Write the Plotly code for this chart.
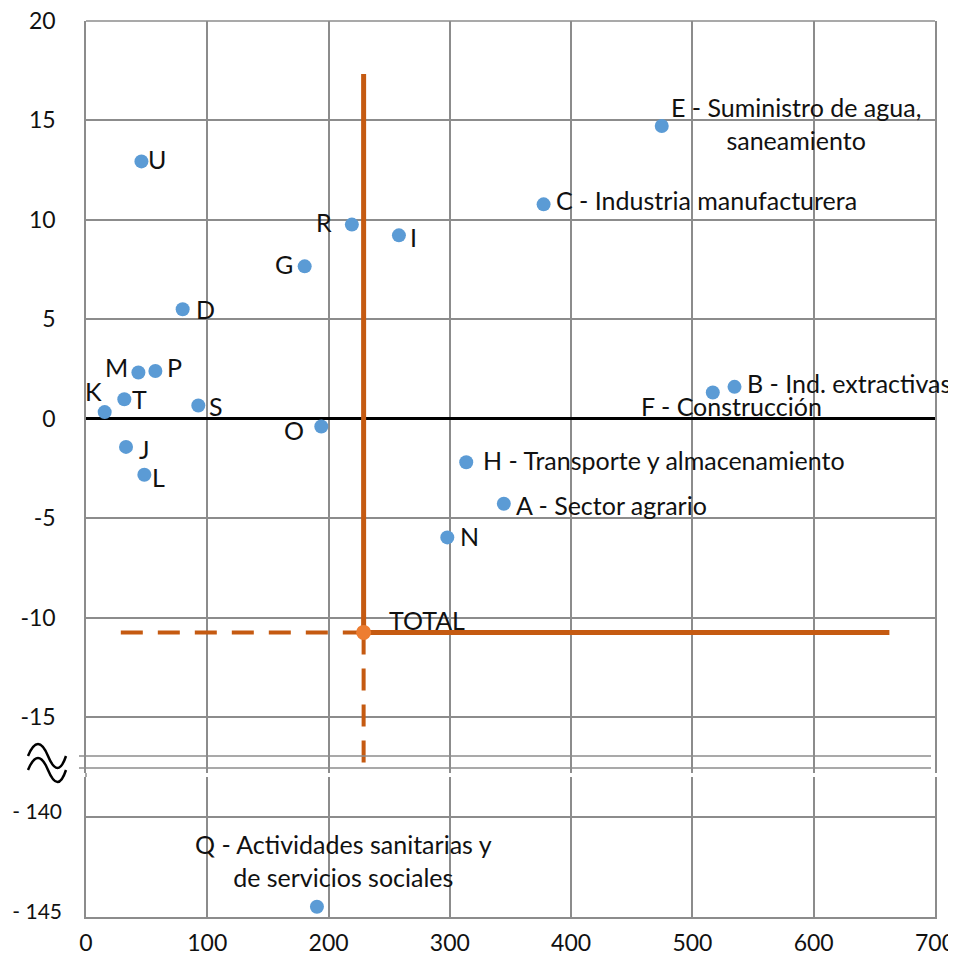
import plotly.graph_objects as go

# ---------------- data ----------------
sector_codes = ["A", "B", "C", "D", "E", "F", "G", "H", "I", "J",
                "K", "L", "M", "N", "O", "P", "R", "S", "T", "U"]
sector_labels = ["A - Sector agrario", "B - Ind. extractivas", "C - Industria manufacturera",
                 "D", "E - Suministro de agua,<br>saneamiento", "F - Construcción", "G",
                 "H - Transporte y almacenamiento", "I", "J", "K", "L", "M", "N", "O", "P",
                 "R", "S", "T", "U"]
sector_x = [344.5, 534.7, 377.3, 79.7, 474.7, 516.8, 180.3, 313.5, 258.0, 33.0,
            15.4, 48.1, 43.2, 297.9, 194.0, 57.2, 219.2, 92.6, 31.6, 45.7]
sector_y = [-4.28, 1.60, 10.78, 5.50, 14.72, 1.32, 7.66, -2.19, 9.22, -1.42,
            0.33, -2.82, 2.32, -5.97, -0.39, 2.40, 9.76, 0.66, 0.98, 12.94]

q_code = "Q"
q_label = "Q - Actividades sanitarias y<br>de servicios sociales"
q_x = [190.4]
q_y = [-144.49]

total_label = "TOTAL"
total_x = 228.9
total_y = -10.75

# reference line extents (data units)
vline_top = 17.33
hline_right = 662.4
hline_left_dashed = 28.7

x_ticks = [0, 100, 200, 300, 400, 500, 600, 700]
x_ticklabels = ["0", "100", "200", "300", "400", "500", "600", "700"]
y_top_ticks = [20, 15, 10, 5, 0, -5, -10, -15]
y_top_ticklabels = ["20", "15", "10", "5", "0", "-5", "-10", "-15"]
y_bot_ticks = [-140, -145]
y_bot_ticklabels = ["- 140", "- 145"]

# ---------------- styling / layout ----------------
OFF = 8                      # page body margin of the browser
W, H = 956 - OFF, 961 - OFF
ML, MR, MT, MB = 86 - OFF, 21, 21 - OFF, 44
PL, PR, PT, PB = 86, 935, 21, 917   # plot area in page pixels
PW, PH = PR - PL, PB - PT
FONT = "Lato"
FS = 25
TFS = 23
BLUE = "#5B9BD5"
ORANGE_LINE = "#C55A11"
ORANGE_PT = "#ED7D31"
GRID = "#8c8c8c"

def px_x(px):
    return (px - PL) / PW

def px_y(py):
    return (PB - py) / PH

top_dom = [px_y(773), 1.0]
bot_dom = [0.0, px_y(777)]
top_range = [-17.82, 20]
bot_range = [-145, -138.02]

fig = go.Figure()

# orange reference lines
fig.add_trace(go.Scatter(x=[total_x, total_x], y=[total_y, vline_top], mode="lines",
                         line=dict(color=ORANGE_LINE, width=5), xaxis="x", yaxis="y",
                         hoverinfo="skip"))
fig.add_trace(go.Scatter(x=[total_x, hline_right], y=[total_y, total_y], mode="lines",
                         line=dict(color=ORANGE_LINE, width=5), xaxis="x", yaxis="y",
                         hoverinfo="skip"))
fig.add_trace(go.Scatter(x=[hline_left_dashed, total_x], y=[total_y, total_y], mode="lines",
                         line=dict(color=ORANGE_LINE, width=4, dash="22px,15px"),
                         xaxis="x", yaxis="y", hoverinfo="skip"))
fig.add_trace(go.Scatter(x=[total_x, total_x], y=[total_y, top_range[0]], mode="lines",
                         line=dict(color=ORANGE_LINE, width=4, dash="22px,14px"),
                         xaxis="x", yaxis="y", hoverinfo="skip"))

# sector points
fig.add_trace(go.Scatter(x=sector_x, y=sector_y, mode="markers",
                         marker=dict(color=BLUE, size=14), text=sector_codes,
                         xaxis="x", yaxis="y"))
fig.add_trace(go.Scatter(x=q_x, y=q_y, mode="markers",
                         marker=dict(color=BLUE, size=14), text=[q_code],
                         xaxis="x", yaxis="y2"))
fig.add_trace(go.Scatter(x=[total_x], y=[total_y], mode="markers",
                         marker=dict(color=ORANGE_PT, size=15), text=[total_label],
                         xaxis="x", yaxis="y"))

# label placement (style): xanchor, xshift, yshift
place = {
    "A": ("left", 10, -1), "B": ("left", 10, 4), "C": ("left", 10, 4),
    "D": ("left", 11, 0), "E": ("left", 7, 2), "F": ("center", 19, -14),
    "G": ("right", -10, 2), "H": ("left", 15, 2), "I": ("left", 9, -2),
    "J": ("left", 11, -2), "K": ("right", -1, 21), "L": ("left", 6, -2),
    "M": ("right", -8, 6), "N": ("left", 11, 1), "O": ("right", -15, -4),
    "P": ("left", 10, 4), "R": ("right", -18, 3), "S": ("left", 9, 0),
    "T": ("left", 6, 0), "U": ("left", 5, 2),
}

annotations = []
for code, lab, xv, yv in zip(sector_codes, sector_labels, sector_x, sector_y):
    xa, xs, ys = place[code]
    annotations.append(dict(x=xv, y=yv, xref="x", yref="y", text=lab, showarrow=False,
                            xanchor=xa, yanchor="middle", xshift=xs, yshift=ys,
                            align="center", font=dict(family=FONT, size=FS, color="#111")))
annotations.append(dict(x=q_x[0], y=q_y[0], xref="x", yref="y2", text=q_label, showarrow=False,
                        xanchor="center", yanchor="middle", xshift=27, yshift=46,
                        align="center", font=dict(family=FONT, size=FS, color="#111")))
annotations.append(dict(x=total_x, y=total_y, xref="x", yref="y", text=total_label,
                        showarrow=False, xanchor="left", yanchor="middle", xshift=23,
                        yshift=12, font=dict(family=FONT, size=FS, color="#111")))

# break decoration
shapes = []
for py in (756, 768):
    shapes.append(dict(type="line", xref="paper", yref="paper",
                       x0=px_x(79), x1=px_x(931), y0=px_y(py), y1=px_y(py),
                       line=dict(color=GRID, width=1.5)))
# left axis continuity through the gap
shapes.append(dict(type="line", xref="paper", yref="paper", x0=0, x1=0,
                   y0=bot_dom[1], y1=top_dom[0], line=dict(color=GRID, width=1.5)))
# top border
shapes.append(dict(type="line", xref="paper", yref="paper", x0=0, x1=1,
                   y0=1, y1=1, line=dict(color=GRID, width=1.5)))
for off in (0, 14):
    pts = [(28, 756 + off), (38, 732 + off), (48, 756 + off), (58, 780 + off), (66, 756 + off)]
    p = [(px_x(a), px_y(b)) for a, b in pts]
    path = "M {} {} Q {} {} {} {} Q {} {} {} {}".format(
        p[0][0], p[0][1], p[1][0], p[1][1], p[2][0], p[2][1],
        p[3][0], p[3][1], p[4][0], p[4][1])
    shapes.append(dict(type="path", xref="paper", yref="paper", path=path,
                       line=dict(color="black", width=2.5)))

tickfont = dict(family=FONT, size=TFS, color="#111")
tickfont_bot = dict(family=FONT, size=21, color="#111")

fig.update_layout(
    width=W, height=H,
    margin=dict(l=ML, r=MR, t=MT, b=MB, autoexpand=False),
    paper_bgcolor="white", plot_bgcolor="white",
    showlegend=False,
    xaxis=dict(domain=[0, 1], anchor="y2", range=[0, 700], tickvals=x_ticks,
               ticktext=x_ticklabels, showgrid=True, gridcolor=GRID, gridwidth=1.5,
               zeroline=False, showline=True, linecolor=GRID, linewidth=1.5,
               ticks="", tickfont=tickfont, ticklabelstandoff=5, automargin=False,
               ticklabeloverflow="allow"),
    yaxis=dict(domain=top_dom, anchor="x", range=top_range, tickvals=y_top_ticks,
               ticktext=y_top_ticklabels, showgrid=True, gridcolor=GRID, gridwidth=1.5,
               zeroline=True, zerolinecolor="black", zerolinewidth=2.5,
               showline=True, mirror=True, linecolor=GRID, linewidth=1.5,
               ticks="", tickfont=tickfont, ticklabelstandoff=24, automargin=False,
               ticklabeloverflow="allow"),
    yaxis2=dict(domain=bot_dom, anchor="x", range=bot_range, tickvals=y_bot_ticks,
                ticktext=y_bot_ticklabels, showgrid=True, gridcolor=GRID, gridwidth=1.5,
                zeroline=False, showline=True, mirror=True, linecolor=GRID, linewidth=1.5,
                ticks="", tickfont=tickfont_bot, ticklabelstandoff=18, ticklabelshift=-5,
                automargin=False, ticklabeloverflow="allow"),
    annotations=annotations,
    shapes=shapes,
)

fig.write_html("out.html")
